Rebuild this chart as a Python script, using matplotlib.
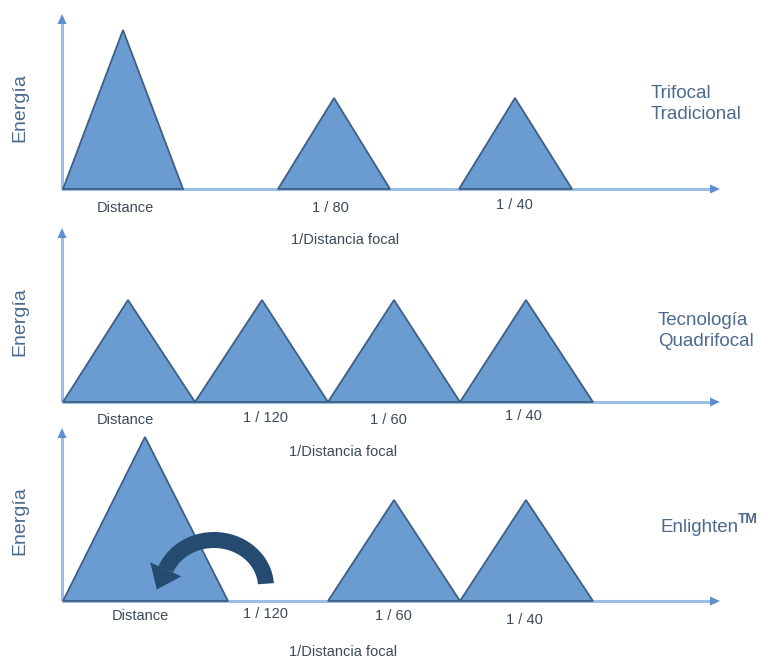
import numpy as np
import matplotlib
matplotlib.use("Agg")
import matplotlib.pyplot as plt
from matplotlib.patches import Polygon

plt.rcParams['font.family'] = ['Liberation Sans', 'DejaVu Sans']

# ---------------- data ----------------
panel_titles = ["Trifocal\nTradicional", "Tecnología\nQuadrifocal", "Enlighten"]
y_label = "Energía"
x_label = "1/Distancia focal"

# panel 1: Trifocal tradicional
p1_labels = ["Distance", "1 / 80", "1 / 40"]
p1_left = [1, 216, 397]
p1_right = [121, 328, 510]
p1_peak = [61, 272, 453]
p1_height = [159, 91, 91]

# panel 2: Tecnología Quadrifocal
p2_labels = ["Distance", "1 / 120", "1 / 60", "1 / 40"]
p2_left = [1, 133, 266, 398]
p2_right = [133, 266, 398, 531]
p2_peak = [66, 200, 332, 464]
p2_height = [102, 102, 102, 102]

# panel 3: Enlighten
p3_labels = ["Distance", "1 / 120", "1 / 60", "1 / 40"]
p3_left = [1, 266, 398]
p3_right = [166, 398, 531]
p3_peak = [83, 332, 464]
p3_height = [164, 101, 101]

# ---------------- style ----------------
FILL = "#6A9BD1"
EDGE = "#3E5F85"
AXC = "#9BBEE6"
HEADC = "#5B8FD0"
TXT = "#4B6A8E"
LBL = "#3C4A58"
CURV = "#264B70"

W, H = 763, 662
fig = plt.figure(figsize=(W / 100, H / 100), dpi=100)
fig.patch.set_facecolor("white")

AX_W, AX_H = 700, 185
ORIGIN_X = 62


def make_ax(baseline_px):
    ax = fig.add_axes([ORIGIN_X / W, (H - baseline_px) / H, AX_W / W, AX_H / H])
    ax.set_xlim(0, AX_W)
    ax.set_ylim(0, AX_H)
    ax.axis("off")
    return ax


def draw_axes(ax, ytop, xend=658):
    ax.plot([0, xend - 8], [0, 0], color=AXC, lw=2.2, solid_capstyle="butt",
            zorder=1, clip_on=False)
    ax.plot([0, 0], [0, ytop - 8], color=AXC, lw=2.2, solid_capstyle="butt",
            zorder=1, clip_on=False)
    ax.add_patch(Polygon([[xend, 0], [xend - 10, 4.5], [xend - 10, -4.5]],
                         closed=True, color=HEADC, lw=0, zorder=2, clip_on=False))
    ax.add_patch(Polygon([[0, ytop], [-4.5, ytop - 10], [4.5, ytop - 10]],
                         closed=True, color=HEADC, lw=0, zorder=2, clip_on=False))


def draw_tris(ax, left, right, peak, height):
    for l, r, p, h in zip(left, right, peak, height):
        ax.add_patch(Polygon([[l, 0], [p, h], [r, 0]], closed=True,
                             facecolor=FILL, edgecolor=EDGE, lw=1.3, zorder=3,
                             clip_on=False))


def draw_labels(ax, labels, xs, ys):
    for t, x, y in zip(labels, xs, ys):
        ax.text(x, y, t, ha="center", va="center", fontsize=10.5,
                color=LBL, clip_on=False)


def draw_common(ax, ycenter, title, tx, ty):
    ax.text(-42, ycenter, y_label, rotation=90, ha="center", va="center",
            fontsize=14, color=TXT, clip_on=False)
    ax.text(tx, ty, title, ha="left", va="center", fontsize=13.5,
            color=TXT, linespacing=1.25, clip_on=False)


# Panel 1
ax1 = make_ax(189)
draw_axes(ax1, 175)
draw_tris(ax1, p1_left, p1_right, p1_peak, p1_height)
draw_labels(ax1, p1_labels, [63, 268, 452], [-19, -19, -16])
ax1.text(283, -51, x_label, ha="center", va="center", fontsize=10.5,
         color=LBL, clip_on=False)
draw_common(ax1, 81, panel_titles[0], 589, 85)

# Panel 2
ax2 = make_ax(402)
draw_axes(ax2, 174)
draw_tris(ax2, p2_left, p2_right, p2_peak, p2_height)
draw_labels(ax2, p2_labels, [63, 203, 326, 461], [-18, -16, -18, -14])
ax2.text(281, -50, x_label, ha="center", va="center", fontsize=10.5,
         color=LBL, clip_on=False)
draw_common(ax2, 80, panel_titles[1], 596, 71)

# Panel 3
ax3 = make_ax(601)
draw_axes(ax3, 173)
draw_tris(ax3, p3_left, p3_right, p3_peak, p3_height)
draw_labels(ax3, p3_labels, [78, 203, 331, 462], [-15, -13, -15, -19])
ax3.text(281, -51, x_label, ha="center", va="center", fontsize=10.5,
         color=LBL, clip_on=False)
draw_common(ax3, 80, panel_titles[2], 598, 74)
ax3.text(676, 82, "TM", ha="left", va="center", fontsize=10, color=TXT,
         fontweight="bold", clip_on=False)

# curved arrow (elliptical band with arrowhead)
cx, cy, rx, ry = 152, 14, 52, 47
band = 16
t0, t1 = np.deg2rad(4), np.deg2rad(158)
th = np.linspace(t0, t1, 80)
outer = np.column_stack([cx + (rx + band / 2) * np.cos(th), cy + (ry + band / 2) * np.sin(th)])
inner = np.column_stack([cx + (rx - band / 2) * np.cos(th), cy + (ry - band / 2) * np.sin(th)])
ax3.add_patch(Polygon(np.vstack([outer, inner[::-1]]), closed=True,
                      facecolor=CURV, edgecolor="none", zorder=5))
bx, by = cx + rx * np.cos(t1), cy + ry * np.sin(t1)
tg = np.array([-rx * np.sin(t1), ry * np.cos(t1)])
tg /= np.linalg.norm(tg)
nr = np.array([-tg[1], tg[0]])
hw, hl = 17, 22
head = [[bx + nr[0] * hw, by + nr[1] * hw],
        [bx - nr[0] * hw, by - nr[1] * hw],
        [bx + tg[0] * hl, by + tg[1] * hl]]
ax3.add_patch(Polygon(head, closed=True, facecolor=CURV, edgecolor="none", zorder=5))

fig.savefig("out.png", dpi=100, facecolor="white")
